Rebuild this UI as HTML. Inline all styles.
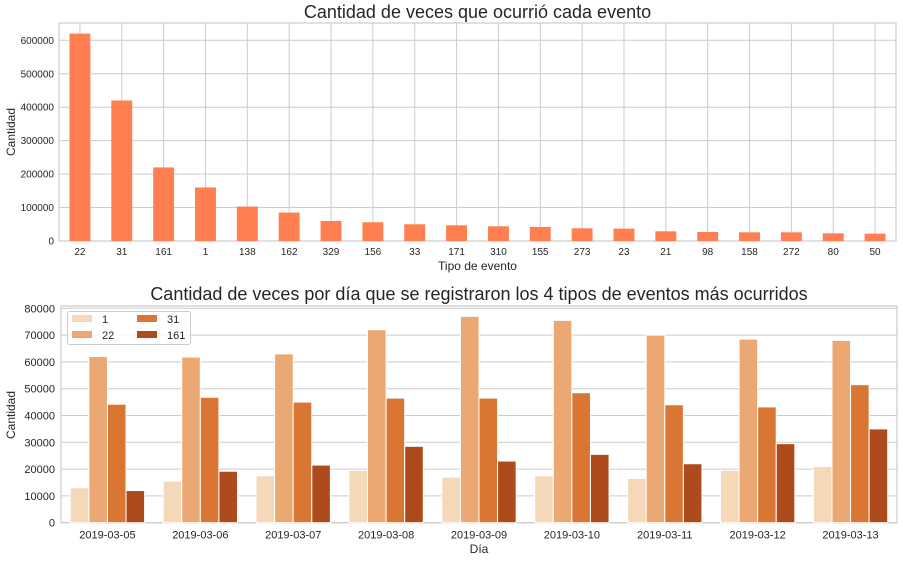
<!DOCTYPE html>
<html><head><meta charset="utf-8"><style>
body{margin:0;background:#fff;font-family:"Liberation Sans",sans-serif;}
svg text{font-family:"Liberation Sans",sans-serif;fill:#262626;}
</style></head><body>
<svg id="c" width="903" height="559" xmlns="http://www.w3.org/2000/svg"></svg>
<script>
const topCats=["22","31","161","1","138","162","329","156","33","171","310","155","273","23","21","98","158","272","80","50"];
const topVals=[620000,420000,220000,160000,103000,85000,60000,56000,50000,47000,44000,42000,38000,37000,29000,27000,26000,26000,23000,22000];
const topTicks=[0,100000,200000,300000,400000,500000,600000];
const days=["2019-03-05","2019-03-06","2019-03-07","2019-03-08","2019-03-09","2019-03-10","2019-03-11","2019-03-12","2019-03-13"];
const seriesNames=["1","22","31","161"];
const s1=[13000,15500,17500,19500,17000,17500,16500,19500,21000];
const s22=[62000,61800,63000,72000,77000,75500,70000,68500,68000];
const s31=[44200,46800,45000,46500,46500,48500,44000,43200,51500];
const s161=[12000,19200,21500,28500,23000,25500,22000,29500,35000];
const botTicks=[0,10000,20000,30000,40000,50000,60000,70000,80000];

const svg=document.getElementById('c');const NS="http://www.w3.org/2000/svg";
function el(t,a,txt){const e=document.createElementNS(NS,t);for(const k in a)e.setAttribute(k,a[k]);if(txt!==undefined)e.textContent=txt;svg.appendChild(e);return e;}

// top chart
const T={l:59,r:896,t:23,b:241};
const ty=v=>T.b-v*(T.b-40.3)/600000;
const bw=(T.r-T.l)/topCats.length;
const tx=i=>T.l+bw*(i+0.5);
topTicks.forEach(v=>{let g=el('line',{x1:T.l,x2:T.r,y1:ty(v),y2:ty(v),stroke:'#cccccc','stroke-width':1});

let t=el('text',{x:T.l-5,y:ty(v)+3.5,'text-anchor':'end','font-size':10},String(v));
});
topCats.forEach((c,i)=>{let g=el('line',{x1:tx(i),x2:tx(i),y1:T.t,y2:T.b,stroke:'#cccccc','stroke-width':1});
});
let fr=el('rect',{x:T.l,y:T.t,width:T.r-T.l,height:T.b-T.t,fill:'none',stroke:'#cccccc','stroke-width':1.2});

topCats.forEach((c,i)=>{let r=el('rect',{x:tx(i)-bw/4,y:ty(topVals[i]),width:bw/2,height:T.b-ty(topVals[i]),fill:'#ff7f50'});

let t=el('text',{x:tx(i),y:T.b+14,'text-anchor':'middle','font-size':10},c);
});
let t1=el('text',{x:(T.l+T.r)/2,y:18,'text-anchor':'middle','font-size':18},'Cantidad de veces que ocurrió cada evento');

let t2=el('text',{x:(T.l+T.r)/2,y:270,'text-anchor':'middle','font-size':12},'Tipo de evento');

let t3=el('text',{x:15,y:132,'text-anchor':'middle','font-size':12,transform:'rotate(-90 15 132)'},'Cantidad');


// bottom chart
const B={l:61,r:897,t:306,b:522.7};
const by=v=>B.b-v*(B.b-308.3)/80000;
const gw=(B.r-B.l)/days.length;const sw=gw*0.8/4;
const cols=['#f5d8b8','#eba872','#d97634','#ad4b1c'];
const allS=[s1,s22,s31,s161];
botTicks.forEach(v=>{let g=el('line',{x1:B.l,x2:B.r,y1:by(v),y2:by(v),stroke:'#cccccc','stroke-width':1});

let t=el('text',{x:B.l-6,y:by(v)+4,'text-anchor':'end','font-size':11},String(v));
});
let fr2=el('rect',{x:B.l,y:B.t,width:B.r-B.l,height:B.b-B.t,fill:'none',stroke:'#cccccc','stroke-width':1.2});

days.forEach((d,i)=>{const c=B.l+gw*(i+0.5);
allS.forEach((s,j)=>{const x=c-2*sw+j*sw;
let r=el('rect',{x:x,y:by(s[i]),width:sw,height:B.b-by(s[i]),fill:cols[j],stroke:'#fff','stroke-width':1});
});
let t=el('text',{x:c,y:B.b+16,'text-anchor':'middle','font-size':11},d);
});
let t4=el('text',{x:(B.l+B.r)/2,y:300,'text-anchor':'middle','font-size':18},'Cantidad de veces por día que se registraron los 4 tipos de eventos más ocurridos');

let t5=el('text',{x:(B.l+B.r)/2,y:553,'text-anchor':'middle','font-size':12},'Día');

let t6=el('text',{x:15,y:415,'text-anchor':'middle','font-size':12,transform:'rotate(-90 15 415)'},'Cantidad');

// legend
let lg=el('rect',{x:67.5,y:311.5,width:123,height:33,fill:'#fff','fill-opacity':0.8,stroke:'#cccccc',rx:2});

seriesNames.forEach((n,j)=>{const col=Math.floor(j/2),row=j%2;const x=72+col*65,y=315+row*16;
let r=el('rect',{x:x,y:y,width:20,height:7,fill:cols[j]});

let t=el('text',{x:x+30,y:y+8,'font-size':11},n);
});
</script>
</body></html>
